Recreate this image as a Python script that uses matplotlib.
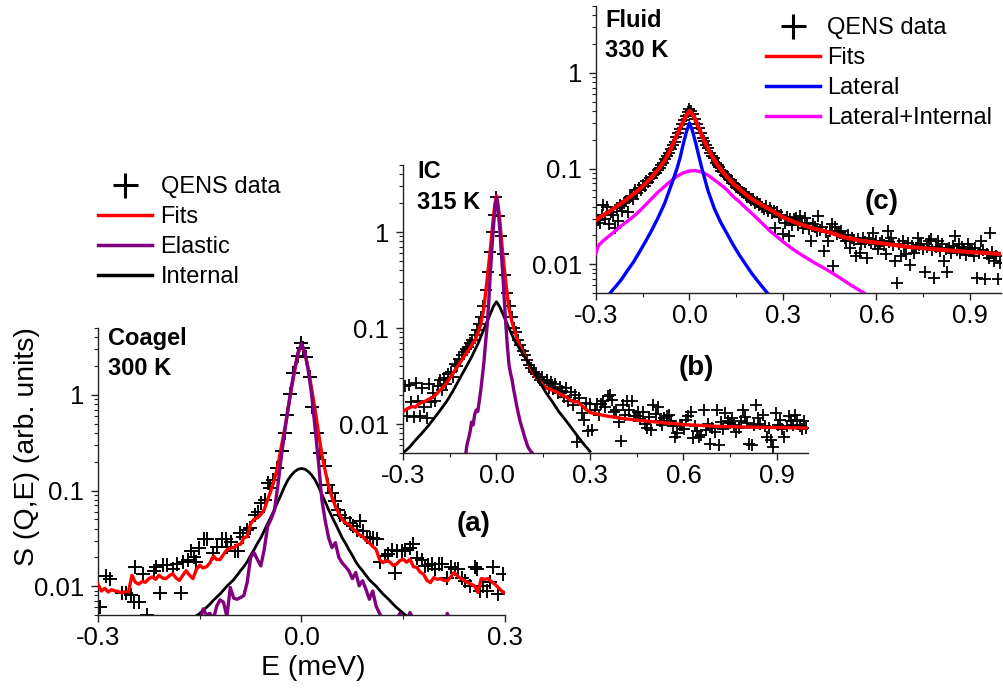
import numpy as np
import matplotlib
matplotlib.use("Agg")
import matplotlib.pyplot as plt
from matplotlib.lines import Line2D
from matplotlib.ticker import LogLocator, NullFormatter

plt.rcParams['font.family'] = ['Liberation Sans', 'DejaVu Sans']

# ---------------- Panel (a): Coagel 300 K ----------------
a_data_E = [-0.297, -0.288, -0.283, -0.265, -0.258, -0.252, -0.247, -0.245, -0.240, -0.233,
            -0.228, -0.218, -0.214, -0.209, -0.204, -0.199, -0.190, -0.184, -0.178, -0.175,
            -0.168, -0.163, -0.158, -0.155, -0.151, -0.143, -0.139, -0.131, -0.125, -0.117,
            -0.112, -0.110, -0.104, -0.098, -0.093, -0.091, -0.086, -0.081, -0.076, -0.069,
            -0.064, -0.059, -0.054, -0.049, -0.046, -0.0415, -0.0366, -0.029, -0.025, -0.022,
            -0.017, -0.013, -0.0056, 0.0, 0.0026, 0.007, 0.0126, 0.015, 0.0225, 0.028,
            0.0347, 0.0396, 0.0445, 0.049, 0.054, 0.0568, 0.064, 0.0715, 0.076, 0.0814,
            0.086, 0.091, 0.096, 0.101, 0.106, 0.111, 0.1157, 0.123, 0.128, 0.133,
            0.138, 0.1405, 0.148, 0.153, 0.160, 0.165, 0.170, 0.177, 0.182, 0.187,
            0.192, 0.197, 0.202, 0.207, 0.214, 0.221, 0.226, 0.231, 0.236, 0.241,
            0.249, 0.256, 0.258, 0.263, 0.268, 0.273, 0.278, 0.283, 0.290, 0.297]
a_data_S = [0.0060, 0.0128, 0.0118, 0.0085, 0.0085, 0.0080, 0.0068, 0.0157, 0.0068, 0.0133,
            0.0050, 0.0144, 0.0157, 0.0085, 0.0165, 0.0165, 0.0150, 0.0170, 0.0085, 0.0178,
            0.0190, 0.0233, 0.0200, 0.0178, 0.0253, 0.0310, 0.0310, 0.0220, 0.0260, 0.0310,
            0.0310, 0.0260, 0.0290, 0.0233, 0.0233, 0.0360, 0.0330, 0.0390, 0.0410, 0.0560,
            0.0600, 0.0740, 0.0800, 0.120, 0.107, 0.130, 0.170, 0.26, 0.40, 0.61,
            1.02, 1.68, 2.55, 3.46, 3.10, 2.50, 1.55, 0.75, 0.40, 0.245,
            0.18, 0.115, 0.095, 0.078, 0.063, 0.056, 0.052, 0.046, 0.0425, 0.039,
            0.048, 0.0377, 0.033, 0.032, 0.032, 0.031, 0.018, 0.0207, 0.0215, 0.024,
            0.0139, 0.0233, 0.0233, 0.024, 0.0253, 0.0274, 0.0198, 0.019, 0.0163, 0.0167,
            0.0172, 0.0153, 0.0172, 0.0172, 0.0123, 0.016, 0.0150, 0.0153, 0.0123, 0.0114,
            0.0100, 0.016, 0.015, 0.0089, 0.0100, 0.0089, 0.0110, 0.016, 0.0083, 0.0133]

a_fit_S = [0.0105, 0.0089, 0.0095, 0.0087, 0.0092, 0.0089, 0.0088, 0.0085, 0.0088, 0.0087,
           0.0130, 0.0110, 0.0105, 0.0112, 0.0110, 0.0120, 0.0125, 0.0118, 0.0130, 0.0122,
           0.0120, 0.0128, 0.0135, 0.0122, 0.0115, 0.0130, 0.0145, 0.0130, 0.0120, 0.0150,
           0.0165, 0.0155, 0.0160, 0.0175, 0.0207, 0.0190, 0.0190, 0.0215, 0.0240, 0.0250,
           0.0253, 0.0270, 0.0274, 0.0320, 0.0330, 0.0450, 0.0500, 0.0520, 0.0560, 0.0630,
           0.0800, 0.1000, 0.1300, 0.1800, 0.2800, 0.4300, 0.7000, 1.15, 1.80, 2.70,
           3.40, 2.75, 1.85, 1.15, 0.70, 0.40, 0.24, 0.16, 0.11, 0.085,
           0.068, 0.058, 0.050, 0.046, 0.0443, 0.040, 0.0377, 0.0345, 0.0333, 0.030,
           0.0285, 0.0260, 0.0243, 0.0190, 0.0176, 0.0185, 0.0180, 0.0165, 0.0170, 0.0185,
           0.0191, 0.0178, 0.0191, 0.0160, 0.0157, 0.0140, 0.0133, 0.0115, 0.0109, 0.0123,
           0.0118, 0.0120, 0.0115, 0.0114, 0.0125, 0.0139, 0.0128, 0.0120, 0.0115, 0.0109,
           0.0105, 0.0101, 0.0086, 0.0120, 0.0118, 0.0120, 0.0112, 0.0105, 0.0097, 0.0089,
           0.0085]
a_elastic_S = [0.0030, 0.0030, 0.0030, 0.0030, 0.0030, 0.0030, 0.0030, 0.0030, 0.0030, 0.0030,
               0.0030, 0.0030, 0.0030, 0.0030, 0.0030, 0.0030, 0.0030, 0.0030, 0.0030, 0.0030,
               0.0030, 0.0030, 0.0032, 0.0035, 0.0033, 0.0036, 0.0034, 0.0038, 0.0040, 0.0042,
               0.0042, 0.0058, 0.0050, 0.0052, 0.0045, 0.0062, 0.0072, 0.0068, 0.0048, 0.0097,
               0.0075, 0.0073, 0.0076, 0.0080, 0.0110, 0.0200, 0.0224, 0.0190, 0.0163, 0.0240,
               0.0420, 0.0500, 0.0620, 0.1100, 0.2200, 0.4000, 0.7000, 1.20, 1.90, 2.80,
               3.40, 2.80, 1.80, 1.00, 0.45, 0.20, 0.080, 0.048, 0.032, 0.0253,
               0.0285, 0.0200, 0.0175, 0.0160, 0.0144, 0.0120, 0.0139, 0.0101, 0.0114, 0.0093,
               0.0073, 0.0089, 0.0062, 0.0052, 0.0045, 0.0040, 0.0042, 0.0040, 0.0045, 0.0052,
               0.0040, 0.0043, 0.0053, 0.0045, 0.0040, 0.0038, 0.0036, 0.0040, 0.0037, 0.0035,
               0.0036, 0.0040, 0.0038, 0.0052, 0.0041, 0.0036, 0.0035, 0.0034, 0.0036, 0.0035,
               0.0034, 0.0035, 0.0036, 0.0034, 0.0033, 0.0034, 0.0035, 0.0033, 0.0032, 0.0032,
               0.0032]
a_internal_S = [0.0047, 0.0049, 0.0052, 0.0056, 0.0060, 0.0065, 0.0071, 0.0077, 0.0083, 0.0091,
                0.0100, 0.0108, 0.0117, 0.0130, 0.0145, 0.0160, 0.0180, 0.0210, 0.0240, 0.0280,
                0.0320, 0.0380, 0.0450, 0.0530, 0.0630, 0.0760, 0.0910, 0.1100, 0.1290, 0.1450,
                0.1580, 0.1670, 0.1700, 0.1670, 0.1580, 0.1450, 0.1290, 0.1100, 0.0910, 0.0760,
                0.0630, 0.0530, 0.0450, 0.0380, 0.0320, 0.0280, 0.0240, 0.0210, 0.0180, 0.0160,
                0.0145, 0.0130, 0.0117, 0.0108, 0.0100, 0.0091, 0.0083, 0.0077, 0.0071, 0.0065,
                0.0060, 0.0056, 0.0052, 0.0049, 0.0047]
a_fit_E = -0.3 + 0.005 * np.arange(len(a_fit_S))
a_elastic_E = -0.3 + 0.005 * np.arange(len(a_elastic_S))
a_internal_E = -0.16 + 0.005 * np.arange(len(a_internal_S))

# ---------------- Panel (b): IC 315 K ----------------
b_data_S = [0.0250, 0.0120, 0.0255, 0.0170, 0.0118, 0.0265, 0.0172, 0.0120, 0.0240, 0.0150,
            0.0115, 0.0260, 0.0170, 0.0210, 0.0175, 0.0250, 0.0290, 0.0225, 0.0300, 0.0260,
            0.0330, 0.0350, 0.0310, 0.0420, 0.0400, 0.0480, 0.0520, 0.0560, 0.0600, 0.0640,
            0.0700, 0.0760, 0.0850, 0.0950, 0.1100, 0.1300, 0.1700, 0.2500, 0.3800, 0.6200,
            1.000, 1.500, 2.300, 1.480, 0.910, 0.590, 0.360, 0.230, 0.170, 0.130,
            0.100, 0.090, 0.075, 0.066, 0.058, 0.052, 0.046, 0.041, 0.038, 0.035,
            0.033, 0.031, 0.0285, 0.0310, 0.0265, 0.0290, 0.0240, 0.0275, 0.0230, 0.0260,
            0.0210, 0.0245, 0.0220, 0.0190, 0.0235, 0.0175, 0.0215, 0.0160, 0.0200, 0.0065,
            0.0185, 0.0130, 0.0110, 0.0165, 0.0085, 0.0163, 0.0087, 0.0140, 0.0163, 0.0125,
            0.0163, 0.0175, 0.0150, 0.0195, 0.0200, 0.0180, 0.0135, 0.0140, 0.0105, 0.0066,
            0.0157, 0.0125, 0.0175, 0.0140, 0.0175, 0.0121, 0.0121, 0.0135, 0.0112, 0.0135,
            0.0100, 0.0092, 0.0118, 0.0086, 0.0157, 0.0128, 0.0151, 0.0107, 0.0097, 0.0115,
            0.0120, 0.0124, 0.0107, 0.0095, 0.0074, 0.0080, 0.0098, 0.0099, 0.0088, 0.0110,
            0.0120, 0.0135, 0.0071, 0.0095, 0.0085, 0.0074, 0.0077, 0.0140, 0.0086, 0.0100,
            0.0062, 0.0090, 0.0083, 0.0140, 0.0060, 0.0105, 0.0089, 0.0130, 0.0107, 0.0103,
            0.0115, 0.0099, 0.0083, 0.0092, 0.0107, 0.0140, 0.0118, 0.0103, 0.0062, 0.0060,
            0.0098, 0.0157, 0.0115, 0.0100, 0.0124, 0.0095, 0.0074, 0.0090, 0.0069, 0.0058,
            0.0130, 0.0099, 0.0110, 0.0089, 0.0074, 0.0095, 0.0120, 0.0107, 0.0099, 0.0125,
            0.0110, 0.0095, 0.0088, 0.0107, 0.0092]
b_data_E = 0.007 * (np.arange(len(b_data_S)) - 42)

b_fit_E = [-0.300, -0.290, -0.280, -0.270, -0.260, -0.250, -0.240, -0.230, -0.220, -0.210,
           -0.200, -0.190, -0.180, -0.170, -0.160, -0.150, -0.140, -0.130, -0.120, -0.110,
           -0.100, -0.090, -0.080, -0.070, -0.060, -0.050, -0.040, -0.030, -0.020, -0.010,
           -0.005, 0.000, 0.005, 0.010, 0.020, 0.030, 0.040, 0.050, 0.060, 0.070, 0.080,
           0.090, 0.100, 0.110, 0.120, 0.130, 0.140, 0.150, 0.160, 0.170, 0.180,
           0.190, 0.200, 0.210, 0.220, 0.230, 0.240, 0.250, 0.260, 0.270, 0.280,
           0.290, 0.300, 0.350, 0.400, 0.450, 0.500, 0.600, 0.700, 0.800, 0.900, 1.000]
b_fit_S = [0.0135, 0.0142, 0.0148, 0.0152, 0.0150, 0.0162, 0.0168, 0.0172, 0.0180, 0.0186,
           0.0195, 0.0210, 0.0228, 0.0245, 0.0267, 0.0300, 0.0335, 0.0380, 0.0420, 0.0470,
           0.0530, 0.0590, 0.0660, 0.0740, 0.0880, 0.1100, 0.1650, 0.3200, 0.6500, 1.40,
           1.95, 2.40, 1.95, 1.40, 0.60, 0.30, 0.160, 0.115, 0.090, 0.072, 0.061,
           0.052, 0.045, 0.038, 0.0335, 0.0300, 0.0277, 0.0255, 0.0238, 0.0232, 0.0225,
           0.0218, 0.0210, 0.0200, 0.0195, 0.0185, 0.0175, 0.0170, 0.0172, 0.0160, 0.0150,
           0.0140, 0.0132, 0.0122, 0.0115, 0.0110, 0.0106, 0.0099, 0.0095, 0.0093, 0.0092, 0.0091]
b_elastic_S = [0.0045, 0.0060, 0.0070, 0.0082, 0.0105, 0.0098, 0.0125, 0.0140, 0.0135, 0.0175,
               0.0230, 0.0320, 0.0450, 0.0700, 0.1050, 0.1800, 0.3600, 0.6500, 1.10, 1.75,
               2.30, 1.75, 1.15, 0.65, 0.38, 0.20, 0.110, 0.065, 0.042, 0.034,
               0.029, 0.023, 0.019, 0.0155, 0.0130, 0.0110, 0.0096, 0.0085, 0.0074, 0.0066,
               0.0059, 0.0055, 0.0052, 0.0050, 0.0046]
b_elastic_E = -0.1 + 0.005 * np.arange(len(b_elastic_S))
b_internal_E = [-0.30, -0.28, -0.26, -0.24, -0.22, -0.20, -0.18, -0.16, -0.14, -0.12, -0.10,
                -0.08, -0.06, -0.04, -0.02, -0.01, 0.00, 0.01, 0.02, 0.04, 0.06, 0.08, 0.10,
                0.12, 0.14, 0.16, 0.18, 0.20, 0.22, 0.24, 0.26, 0.28, 0.30]
b_internal_S = [0.0050, 0.0057, 0.0068, 0.0080, 0.0095, 0.0115, 0.0140, 0.0172, 0.0220, 0.0290, 0.0380,
                0.0500, 0.0680, 0.0980, 0.1400, 0.1680, 0.1880, 0.1680, 0.1420, 0.1000, 0.0720, 0.0570, 0.0450,
                0.0350, 0.0270, 0.0210, 0.0170, 0.0135, 0.0112, 0.0092, 0.0075, 0.0062, 0.0052]

# ---------------- Panel (c): Fluid 330 K ----------------
c_data_S = [0.0310, 0.0290, 0.0270, 0.0330, 0.0420, 0.0300, 0.0400, 0.0262, 0.0350, 0.0330,
            0.0240, 0.0390, 0.0280, 0.0420, 0.0360, 0.0440, 0.0460, 0.0350, 0.0500, 0.0520,
            0.0480, 0.0590, 0.0560, 0.0630, 0.0600, 0.0680, 0.0650, 0.0740, 0.0720, 0.0800,
            0.0790, 0.0880, 0.0900, 0.0960, 0.1020, 0.1100, 0.1130, 0.1250, 0.1350, 0.1450,
            0.1600, 0.1750, 0.1900, 0.2150, 0.2350, 0.2600, 0.2900, 0.3200, 0.3500, 0.3900,
            0.4200, 0.4000, 0.3700, 0.3300, 0.2900, 0.2650, 0.2350, 0.2100, 0.1950, 0.1750,
            0.1650, 0.1450, 0.1350, 0.1300, 0.1150, 0.1100, 0.1050, 0.0950, 0.0920, 0.0860,
            0.0830, 0.0780, 0.0760, 0.0700, 0.0690, 0.0640, 0.0630, 0.0600, 0.0570, 0.0550,
            0.0540, 0.0510, 0.0500, 0.0470, 0.0480, 0.0440, 0.0450, 0.0420, 0.0430, 0.0400,
            0.0380, 0.0410, 0.0360, 0.0390, 0.0340, 0.0360, 0.0240, 0.0350, 0.0310, 0.0330,
            0.0205, 0.0270, 0.0310, 0.0195, 0.0300, 0.0260, 0.0300, 0.0307, 0.0255, 0.0320,
            0.0270, 0.0240, 0.0307, 0.0272, 0.0235, 0.0175, 0.0262, 0.0245, 0.0225, 0.0320,
            0.0230, 0.0242, 0.0137, 0.0215, 0.0175, 0.0225, 0.0262, 0.0095, 0.0242, 0.0205,
            0.0215, 0.0223, 0.0197, 0.0188, 0.0175, 0.0200, 0.0149, 0.0189, 0.0178, 0.0121,
            0.0185, 0.0132, 0.0161, 0.0190, 0.0170, 0.0117, 0.0180, 0.0165, 0.0213, 0.0161,
            0.0175, 0.0143, 0.0168, 0.0175, 0.0158, 0.0127, 0.0223, 0.0170, 0.0189, 0.0160,
            0.0108, 0.0064, 0.0162, 0.0121, 0.0175, 0.0150, 0.0127, 0.0165, 0.0099, 0.0155,
            0.0132, 0.0148, 0.0189, 0.0158, 0.0161, 0.0145, 0.0083, 0.0150, 0.0175, 0.0182,
            0.0140, 0.0072, 0.0152, 0.0175, 0.0138, 0.0161, 0.0108, 0.0145, 0.0083, 0.0148,
            0.0132, 0.0155, 0.0198, 0.0142, 0.0161, 0.0132, 0.0150, 0.0143, 0.0125, 0.0161,
            0.0140, 0.0138, 0.0121, 0.0147, 0.0072, 0.0130, 0.0175, 0.0140, 0.0070, 0.0128,
            0.0117, 0.0213, 0.0135, 0.0108, 0.0121, 0.0070, 0.0104]
c_data_E = 0.006 * (np.arange(len(c_data_S)) - 50)

c_fit_E = [-0.300, -0.280, -0.260, -0.240, -0.220, -0.200, -0.180, -0.160, -0.140, -0.120,
           -0.100, -0.080, -0.060, -0.040, -0.020, -0.010, 0.000, 0.010, 0.020, 0.040,
           0.060, 0.080, 0.100, 0.120, 0.140, 0.160, 0.180, 0.200, 0.230, 0.260,
           0.300, 0.350, 0.400, 0.450, 0.500, 0.550, 0.600, 0.650, 0.700, 0.750,
           0.800, 0.850, 0.900, 0.950, 1.000]
c_fit_S = [0.0290, 0.0320, 0.0350, 0.0390, 0.0430, 0.0480, 0.0540, 0.0610, 0.0700, 0.0820,
           0.0980, 0.1200, 0.1600, 0.2250, 0.3100, 0.3600, 0.4000, 0.3700, 0.3200, 0.2200,
           0.1600, 0.1220, 0.0980, 0.0820, 0.0700, 0.0610, 0.0540, 0.0480, 0.0420, 0.0370,
           0.0310, 0.0265, 0.0235, 0.0215, 0.0190, 0.0176, 0.0168, 0.0160, 0.0152, 0.0147,
           0.0142, 0.0138, 0.0134, 0.0131, 0.0128]
c_lat_E = [-0.280, -0.250, -0.220, -0.200, -0.180, -0.160, -0.140, -0.120, -0.100, -0.080,
           -0.060, -0.040, -0.030, -0.020, -0.010, 0.000, 0.010, 0.020, 0.030, 0.040,
           0.060, 0.080, 0.100, 0.120, 0.140, 0.160, 0.180, 0.200, 0.220, 0.250, 0.280]
c_lat_S = [0.0040, 0.0052, 0.0068, 0.0085, 0.0105, 0.0135, 0.0175, 0.0230, 0.0310, 0.0430,
           0.0650, 0.1000, 0.1300, 0.1800, 0.2400, 0.3000, 0.2450, 0.1850, 0.1350, 0.1000,
           0.0580, 0.0380, 0.0275, 0.0210, 0.0160, 0.0125, 0.0100, 0.0080, 0.0066, 0.0050, 0.0040]
c_latint_E = [-0.300, -0.295, -0.290, -0.280, -0.260, -0.240, -0.220, -0.200, -0.180, -0.160,
              -0.140, -0.120, -0.100, -0.080, -0.060, -0.040, -0.020, 0.000, 0.020, 0.040,
              0.060, 0.080, 0.100, 0.120, 0.140, 0.160, 0.180, 0.200, 0.220, 0.240,
              0.260, 0.280, 0.300, 0.330, 0.360, 0.400, 0.440, 0.480, 0.520, 0.560, 0.600]
c_latint_S = [0.0130, 0.0148, 0.0160, 0.0172, 0.0195, 0.0220, 0.0250, 0.0280, 0.0315, 0.0360,
              0.0420, 0.0490, 0.0570, 0.0650, 0.0740, 0.0830, 0.0900, 0.0945, 0.0950, 0.0920,
              0.0850, 0.0760, 0.0680, 0.0600, 0.0510, 0.0450, 0.0390, 0.0340, 0.0295, 0.0255,
              0.0220, 0.0195, 0.0172, 0.0145, 0.0125, 0.0104, 0.0088, 0.0073, 0.0060, 0.0050, 0.0041]

RED = '#ff0000'
PURPLE = '#800080'
BLUE = '#0000ff'
MAGENTA = '#ff00ff'

W, H = 1004, 688
fig = plt.figure(figsize=(W / 100, H / 100), dpi=100)


def px_axes(left, top, right, bottom):
    return fig.add_axes([left / W, 1 - bottom / H, (right - left) / W, (bottom - top) / H],
                        facecolor='none')


def style(ax, xmax, xticks, xlabels, minors):
    ax.set_yscale('log')
    ax.set_ylim(0.005, 5)
    ax.set_xlim(-0.3, xmax)
    for s in ('top', 'right'):
        ax.spines[s].set_visible(False)
    for s in ('left', 'bottom'):
        ax.spines[s].set_linewidth(1.0)
        ax.spines[s].set_color('#222222')
    ax.set_yticks([0.01, 0.1, 1])
    ax.set_yticklabels(['0.01', '0.1', '1'])
    ax.yaxis.set_minor_locator(LogLocator(base=10, subs=np.arange(2, 10), numticks=20))
    ax.yaxis.set_minor_formatter(NullFormatter())
    ax.set_xticks(xticks)
    ax.set_xticklabels(xlabels)
    ax.set_xticks(minors, minor=True)
    ax.tick_params(which='major', direction='out', length=5, width=1.0, labelsize=18.5,
                   color='#222222')
    ax.tick_params(axis='y', which='major', pad=5)
    ax.tick_params(axis='x', which='major', pad=3)
    ax.tick_params(which='minor', direction='out', length=3, width=0.8, color='#222222')


ax_a = px_axes(98, 328, 505, 615)
ax_b = px_axes(403, 165, 808, 453)
ax_c = px_axes(596, 6, 1001, 293)

style(ax_a, 0.3, [-0.3, 0.0, 0.3], ['-0.3', '0.0', '0.3'], [-0.15, 0.15])
xt = [-0.3, 0.0, 0.3, 0.6, 0.9]
xl = ['-0.3', '0.0', '0.3', '0.6', '0.9']
style(ax_b, 1.0, xt, xl, [-0.15, 0.15, 0.45, 0.75])
style(ax_c, 1.0, xt, xl, [-0.15, 0.15, 0.45, 0.75])

# Panel (a)
ax_a.plot(a_data_E, a_data_S, '+', color='black', ms=10, mew=1.4, zorder=2)
ax_a.plot(a_fit_E, a_fit_S, '-', color=RED, lw=2.4, zorder=3)
ax_a.plot(a_internal_E, a_internal_S, '-', color='black', lw=2.0, zorder=4)
ax_a.plot(a_elastic_E, a_elastic_S, '-', color=PURPLE, lw=2.4, zorder=5)

# Panel (b)
ax_b.plot(b_data_E, b_data_S, '+', color='black', ms=9, mew=1.3, zorder=2)
ax_b.plot(b_fit_E, b_fit_S, '-', color=RED, lw=2.4, zorder=3)
ax_b.plot(b_internal_E, b_internal_S, '-', color='black', lw=2.0, zorder=4)
ax_b.plot(b_elastic_E, b_elastic_S, '-', color=PURPLE, lw=2.4, zorder=5)

# Panel (c)
ax_c.plot(c_data_E, c_data_S, '+', color='black', ms=9, mew=1.3, zorder=2)
ax_c.plot(c_latint_E, c_latint_S, '-', color=MAGENTA, lw=2.4, zorder=3)
ax_c.plot(c_lat_E, c_lat_S, '-', color=BLUE, lw=2.4, zorder=4)
ax_c.plot(c_fit_E, c_fit_S, '-', color=RED, lw=3.0, zorder=5)

# Legends
def handles(names):
    hs = [Line2D([], [], ls='none', marker='+', color='black', ms=18, mew=2.2)]
    for col in names:
        hs.append(Line2D([], [], color=col, lw=2.5))
    return hs

leg1 = fig.legend(handles([RED, PURPLE, 'black']),
                  ['QENS data', 'Fits', 'Elastic', 'Internal'],
                  loc='upper left', bbox_to_anchor=(98 / W, 1 - 176 / H),
                  frameon=False, fontsize=17, handlelength=2.3, handletextpad=0.35,
                  labelspacing=0.34, borderpad=0, borderaxespad=0)
leg2 = fig.legend(handles([RED, BLUE, MAGENTA]),
                  ['QENS data', 'Fits', 'Lateral', 'Lateral+Internal'],
                  loc='upper left', bbox_to_anchor=(766 / W, 1 - 17 / H),
                  frameon=False, fontsize=17, handlelength=2.3, handletextpad=0.3,
                  labelspacing=0.34, borderpad=0, borderaxespad=0)

# Labels
def ftxt(x, y, s, **kw):
    fig.text(x / W, 1 - y / H, s, **kw)

ftxt(108, 345, 'Coagel', fontsize=17, fontweight='bold', va='baseline')
ftxt(108, 375, '300 K', fontsize=17, fontweight='bold', va='baseline')
ftxt(417, 178, 'IC', fontsize=17, fontweight='bold', va='baseline')
ftxt(417, 209, '315 K', fontsize=17, fontweight='bold', va='baseline')
ftxt(605, 27, 'Fluid', fontsize=17, fontweight='bold', va='baseline')
ftxt(605, 57, '330 K', fontsize=17, fontweight='bold', va='baseline')

ftxt(474, 524, '(a)', fontsize=20, fontweight='bold', ha='center', va='center')
ftxt(696, 368, '(b)', fontsize=20, fontweight='bold', ha='center', va='center')
ftxt(882, 202, '(c)', fontsize=20, fontweight='bold', ha='center', va='center')

ftxt(27, 447, 'S (Q,E) (arb. units)', fontsize=20.5, rotation=90, ha='center', va='center')
ftxt(313, 668, 'E (meV)', fontsize=20.5, ha='center', va='center')

fig.savefig('out.png', dpi=100)
